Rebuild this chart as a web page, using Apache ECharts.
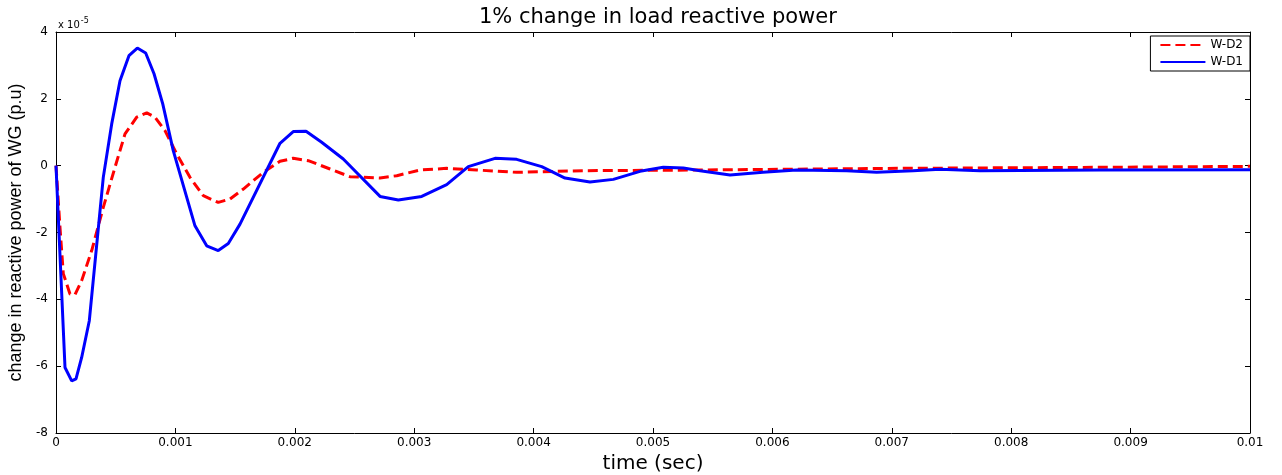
<!DOCTYPE html>
<html>
<head>
<meta charset="utf-8">
<script src="https://cdn.jsdelivr.net/npm/echarts@6/dist/echarts.min.js"></script>
<style>html,body{margin:0;padding:0;background:#fff}#c{width:1282px;height:475px}</style>
</head>
<body>
<div id="c"></div>
<script>
// time in seconds, values in units of 1e-5 p.u.
const timeD2 = [0, 0.0000335, 0.000061, 0.000117, 0.000159, 0.000215, 0.000299, 0.000396, 0.000494, 0.000578, 0.000676, 0.000760, 0.000829, 0.000913, 0.001011, 0.001122, 0.001234, 0.001359, 0.001457, 0.001569, 0.001736, 0.001876, 0.001987, 0.002113, 0.002295, 0.002462, 0.002714, 0.002854, 0.003049, 0.003272, 0.003523, 0.003858, 0.004414, 0.005394, 0.00707, 0.00874, 0.01];
const valD2  = [0, -1.85, -3.23, -3.84, -3.86, -3.44, -2.54, -1.25, -0.05, 0.95, 1.45, 1.58, 1.45, 1.05, 0.35, -0.35, -0.90, -1.10, -1.00, -0.70, -0.20, 0.13, 0.22, 0.15, -0.10, -0.33, -0.37, -0.30, -0.13, -0.08, -0.13, -0.20, -0.15, -0.13, -0.08, -0.05, -0.02];
const timeD1 = [0, 0.0000754, 0.0001315, 0.0001675, 0.000215, 0.000279, 0.000396, 0.0004665, 0.000536, 0.000611, 0.000681, 0.000751, 0.000821, 0.000894, 0.000982, 0.001164, 0.001262, 0.001359, 0.001443, 0.001541, 0.001876, 0.001987, 0.002094, 0.002225, 0.002406, 0.002714, 0.002867, 0.003063, 0.003272, 0.003453, 0.003677, 0.003858, 0.004068, 0.004263, 0.004472, 0.004668, 0.004891, 0.005086, 0.005254, 0.005394, 0.005645, 0.005921, 0.006203, 0.006622, 0.006873, 0.007178, 0.007404, 0.007739, 0.008744, 0.01];
const valD1  = [0, -6.04, -6.44, -6.38, -5.74, -4.64, -0.35, 1.25, 2.54, 3.29, 3.52, 3.37, 2.75, 1.85, 0.45, -1.80, -2.40, -2.54, -2.33, -1.75, 0.67, 1.02, 1.03, 0.70, 0.20, -0.92, -1.03, -0.92, -0.57, -0.03, 0.22, 0.19, -0.03, -0.37, -0.49, -0.41, -0.17, -0.05, -0.07, -0.15, -0.28, -0.20, -0.13, -0.15, -0.20, -0.15, -0.11, -0.15, -0.13, -0.12];
const xTickLabels = ['0', '0.001', '0.002', '0.003', '0.004', '0.005', '0.006', '0.007', '0.008', '0.009', '0.01'];
const yTickLabels = ['-8', '-6', '-4', '-2', '0', '2', '4'];
const seriesNames = ['W-D2', 'W-D1'];

const zip = (t, v) => t.map((x, i) => [x, v[i]]);
const chart = echarts.init(document.getElementById('c'));
const tickStyle = { show: true, inside: true, length: 5, lineStyle: { color: '#000', width: 1 } };
const lineAx = { show: true, onZero: false, lineStyle: { color: '#000', width: 1 } };
chart.setOption({
  animation: false,
  backgroundColor: '#fff',
  title: [
    { text: '1% change in load reactive power', left: 474, top: 2,
      textStyle: { fontFamily: 'DejaVu Sans', fontSize: 21, fontWeight: 'normal', color: '#000' } },
    { text: '{a|x 10}{b|-5}', left: 53, top: 12,
      textStyle: { rich: {
        a: { fontFamily: 'DejaVu Sans', fontSize: 10, fontWeight: 'normal', color: '#000' },
        b: { fontFamily: 'DejaVu Sans', fontSize: 8, fontWeight: 'normal', color: '#000', verticalAlign: 'top', padding: [0, 0, 8, 1] } } } }
  ],
  legend: {
    orient: 'vertical', right: 32, top: 36,
    data: seriesNames,
    itemWidth: 45, itemHeight: 10, itemGap: 5,
    padding: [3, 7, 3, 9],
    borderColor: '#000', borderWidth: 1, borderRadius: 0,
    backgroundColor: '#fff',
    itemStyle: { opacity: 0, borderWidth: 0 },
    textStyle: { fontFamily: 'DejaVu Sans', fontSize: 12, color: '#000' }
  },
  grid: { left: 56, right: 32, top: 32, bottom: 42, containLabel: false, outerBoundsMode: 'none' },
  xAxis: [
    { type: 'value', min: 0, max: 0.01, interval: 0.001,
      name: 'time (sec)', nameLocation: 'middle', nameGap: 16,
      nameTextStyle: { fontFamily: 'DejaVu Sans', fontSize: 20, color: '#000' },
      axisLine: lineAx, axisTick: tickStyle, splitLine: { show: false },
      axisLabel: { margin: 4, fontFamily: 'DejaVu Sans', fontSize: 12, color: '#000',
        formatter: v => xTickLabels[Math.round(v / 0.001)] } },
    { type: 'value', position: 'top', min: 0, max: 0.01, interval: 0.001,
      axisLine: lineAx, axisTick: tickStyle, splitLine: { show: false }, axisLabel: { show: false } }
  ],
  yAxis: [
    { type: 'value', min: -8, max: 4, interval: 2,
      name: 'change in reactive power of WG (p.u)', nameLocation: 'middle', nameGap: 30, nameRotate: 90,
      nameTextStyle: { fontFamily: 'Liberation Sans', fontSize: 18, color: '#000' },
      axisLine: lineAx, axisTick: tickStyle, splitLine: { show: false },
      axisLabel: { margin: 8, fontFamily: 'DejaVu Sans', fontSize: 12, color: '#000',
        formatter: v => yTickLabels[Math.round((v + 8) / 2)] } },
    { type: 'value', position: 'right', min: -8, max: 4, interval: 2,
      axisLine: lineAx, axisTick: tickStyle, splitLine: { show: false }, axisLabel: { show: false } }
  ],
  series: [
    { name: seriesNames[0], type: 'line', data: zip(timeD2, valD2), showSymbol: false, symbol: 'none',
      lineStyle: { color: '#ff0000', width: 3, type: [10, 5] }, itemStyle: { color: '#ff0000' } },
    { name: seriesNames[1], type: 'line', data: zip(timeD1, valD1), showSymbol: false, symbol: 'none',
      lineStyle: { color: '#0000ff', width: 3, type: 'solid' }, itemStyle: { color: '#0000ff' } }
  ]
});
</script>
</body>
</html>
